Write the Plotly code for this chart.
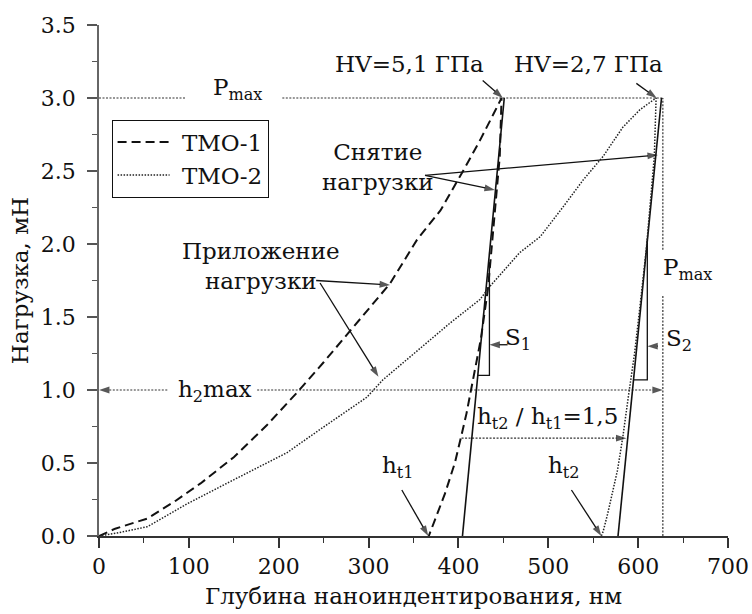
import plotly.graph_objects as go

# ---- data ----
tmo1_load_x = [0, 18, 54, 85, 113, 150, 187, 220, 250, 280, 300, 324, 354, 380, 407, 424, 439, 448]
tmo1_load_y = [0, 0.05, 0.12, 0.24, 0.36, 0.54, 0.76, 0.98, 1.19, 1.41, 1.56, 1.73, 2.03, 2.23, 2.52, 2.71, 2.89, 3.0]
tmo1_unload_x = [448, 446, 440, 433, 425, 416, 409, 403, 396, 385, 372, 367]
tmo1_unload_y = [3.0, 2.6, 2.2, 1.7, 1.35, 1.07, 0.84, 0.68, 0.5, 0.29, 0.09, 0.0]

tmo2_load_x = [0, 20, 54, 98, 142, 209, 246, 298, 316, 354, 391, 424, 435, 468, 491, 516, 539, 561, 583, 602, 620]
tmo2_load_y = [0, 0.02, 0.064, 0.22, 0.36, 0.57, 0.73, 0.95, 1.07, 1.27, 1.46, 1.62, 1.71, 1.94, 2.05, 2.25, 2.44, 2.60, 2.80, 2.92, 3.0]
tmo2_unload_x = [620, 618, 614, 609, 602, 596, 589, 583, 577, 572, 566, 561, 559]
tmo2_unload_y = [3.0, 2.6, 2.3, 1.96, 1.57, 1.25, 0.95, 0.68, 0.45, 0.31, 0.15, 0.03, 0.0]

s1_x = [404.5, 451]
s1_y = [0, 3.0]
s2_x = [577.6, 626]
s2_y = [0, 3.0]

s1_bracket_x = [433.5, 434.5, 434.5, 421.5]
s1_bracket_y = [1.87, 1.87, 1.10, 1.10]
s2_bracket_x = [610.2, 610.2, 594.8]
s2_bracket_y = [2.03, 1.07, 1.07]

pmax_line_x = [0, 96, None, 204, 627.5]
pmax_line_y = [3.0, 3.0, None, 3.0, 3.0]
vert_line_x = [627.5, 627.5, None, 627.5, 627.5]
vert_line_y = [0, 1.65, None, 1.96, 3.0]
h2_left_x = [76, 0]
h2_right_x = [176, 627.5]
h2_y = [1.0, 1.0]
ratio_line_x = [403.5, 587]
ratio_line_y = [0.67, 0.67]

# pointer arrows: (tail x, tail y, head x, head y)
pointer_arrows = [
    (427, 3.12, 449.4, 3.0),
    (598, 3.10, 620.6, 3.0),
    (362.8, 2.47, 440.6, 2.37),
    (362.8, 2.47, 622, 2.61),
    (241.7, 1.75, 323.9, 1.72),
    (246, 1.733, 311, 1.09),
    (454.7, 1.31, 434.5, 1.31),
    (622, 1.30, 610.2, 1.30),
    (337, 0.315, 366.4, 0.0),
    (525.8, 0.315, 559, 0.0),
]

x_ticks = [0, 100, 200, 300, 400, 500, 600, 700]
y_ticks = [0.0, 0.5, 1.0, 1.5, 2.0, 2.5, 3.0, 3.5]

FONT = "DejaVu Serif"
BLACK = "#111"
FS = 23
TFS = 22

fig = go.Figure()

DOT = dict(color="#333", width=1.2, dash="2px,1.5px")

for xs, ys in [(pmax_line_x, pmax_line_y), (vert_line_x, vert_line_y)]:
    fig.add_trace(go.Scatter(x=xs, y=ys, mode="lines", showlegend=False, hoverinfo="skip", line=DOT))

for xs, ys in [(h2_left_x, h2_y), (h2_right_x, h2_y), (ratio_line_x, ratio_line_y)]:
    fig.add_trace(go.Scatter(x=xs, y=ys, mode="lines+markers", showlegend=False, hoverinfo="skip",
                             line=DOT,
                             marker=dict(symbol="arrow", angleref="previous", size=[0, 11],
                                         color=BLACK, line=dict(width=0))))

for xs, ys, w in [(s1_x, s1_y, 1.6), (s2_x, s2_y, 1.6),
                  (s1_bracket_x, s1_bracket_y, 1.3), (s2_bracket_x, s2_bracket_y, 1.3)]:
    fig.add_trace(go.Scatter(x=xs, y=ys, mode="lines", showlegend=False, hoverinfo="skip",
                             line=dict(color=BLACK, width=w)))

for x0, y0, x1, y1 in pointer_arrows:
    fig.add_trace(go.Scatter(x=[x0, x1], y=[y0, y1], mode="lines+markers", showlegend=False,
                             hoverinfo="skip", line=dict(color=BLACK, width=1.3),
                             marker=dict(symbol="arrow", angleref="previous", size=[0, 11],
                                         color=BLACK, line=dict(width=0))))

fig.add_trace(go.Scatter(x=tmo1_load_x + tmo1_unload_x[1:], y=tmo1_load_y + tmo1_unload_y[1:],
                         mode="lines", name="\u00a0ТМО-1",
                         line=dict(color=BLACK, width=2, dash="9px,5px")))
fig.add_trace(go.Scatter(x=tmo2_load_x + tmo2_unload_x[1:], y=tmo2_load_y + tmo2_unload_y[1:],
                         mode="lines", name="\u00a0ТМО-2",
                         line=dict(color="#222", width=1.5, dash="1.5px,1.5px")))

ann = []
def txt(x, y, t):
    ann.append(dict(x=x, y=y, xref="x", yref="y", text=t, showarrow=False,
                    font=dict(family=FONT, size=FS, color=BLACK)))

txt(345, 3.23, "HV=5,1 ГПа")
txt(545, 3.23, "HV=2,7 ГПа")
txt(154, 3.06, "P<sub>max</sub>")
txt(655, 1.83, "P<sub>max</sub>")
txt(311, 2.53, "Снятие<br>нагрузки")
txt(180, 1.85, "Приложение<br>нагрузки")
txt(129.4, 0.99, "h<sub>2</sub>max")
txt(466, 1.35, "S<sub>1</sub>")
txt(646, 1.34, "S<sub>2</sub>")
txt(499.4, 0.81, "h<sub>t2</sub> / h<sub>t1</sub>=1,5")
txt(333, 0.47, "h<sub>t1</sub>")
txt(518, 0.47, "h<sub>t2</sub>")

fig.update_layout(
    width=752, height=614,
    margin=dict(l=98.5, r=23.5, t=25, b=78),
    paper_bgcolor="white", plot_bgcolor="white",
    font=dict(family=FONT, size=FS, color=BLACK),
    annotations=ann,
    legend=dict(x=0.02, y=0.815, xanchor="left", yanchor="top",
                bordercolor=BLACK, borderwidth=1, bgcolor="white", itemwidth=52,
                font=dict(family=FONT, size=FS, color=BLACK), tracegroupgap=0),
    xaxis=dict(range=[0, 700], tickvals=x_ticks, showgrid=False, zeroline=False, automargin=False,
               showline=True, linecolor="#333", linewidth=1.5,
               ticks="outside", ticklen=10, tickwidth=1.5, tickcolor="#333",
               tickfont=dict(family=FONT, size=TFS),
               minor=dict(dtick=50, ticks="outside", ticklen=5, tickwidth=1.2, tickcolor="#333"),
               title=dict(text="Глубина наноиндентирования, нм", standoff=10,
                          font=dict(family=FONT, size=FS))),
    yaxis=dict(range=[0, 3.5], tickvals=y_ticks, tickformat=".1f", showgrid=False, zeroline=False,
               automargin=False,
               showline=True, linecolor="#666", linewidth=1.5,
               ticks="outside", ticklen=10, tickwidth=1.5, tickcolor="#555",
               ticklabelstandoff=7, tickfont=dict(family=FONT, size=TFS),
               minor=dict(dtick=0.25, ticks="outside", ticklen=5, tickwidth=1.2, tickcolor="#555"),
               title=dict(text="Нагрузка, мН", standoff=6,
                          font=dict(family=FONT, size=FS))),
)

fig.write_html("out.html", config={"displayModeBar": False},
               post_script="document.body.style.margin='0';document.body.style.overflow='hidden';")
